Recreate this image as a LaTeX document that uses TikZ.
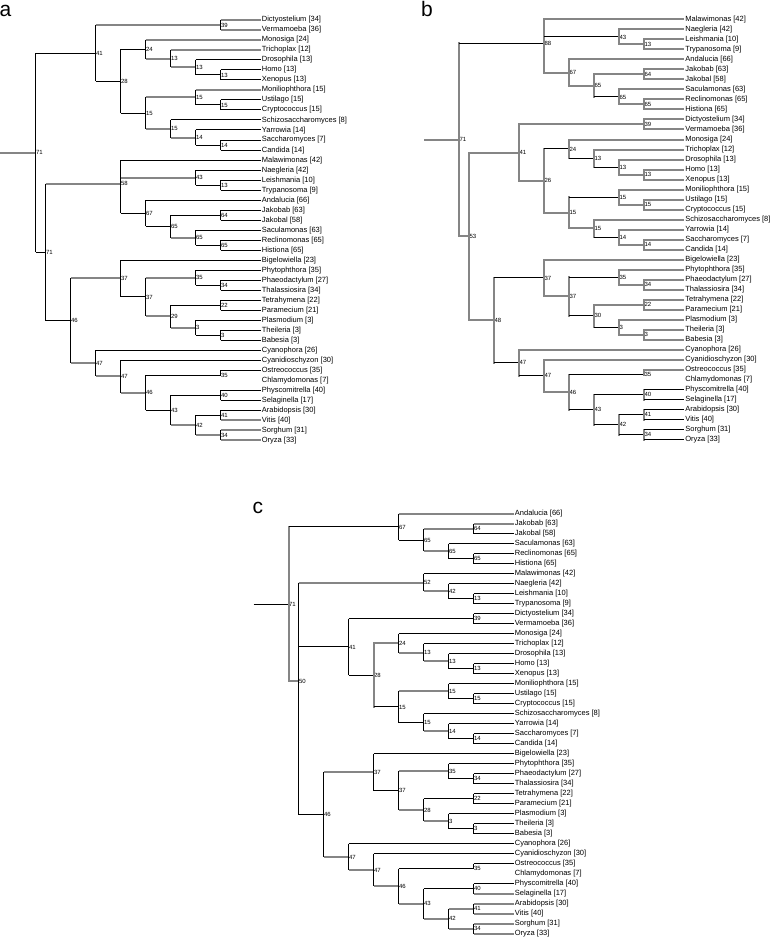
\documentclass[tikz,border=0pt]{standalone}
\usepackage{fontspec}
\setmainfont{Liberation Sans}
\definecolor{treegray}{gray}{0.52}
\newcommand\leaffont{\fontsize{7.5}{8}\selectfont}
\newcommand\nodefont{\fontsize{6}{7}\selectfont}
\newcommand\panelfont{\fontsize{21}{24}\selectfont}
\newcommand\Lf[4]{\node[leaf] (#1) at (#2,#3) {#4};}
\newcommand\In[4]{\coordinate (#1) at (#2,#3); \node[nlab] (#1l) at (#1) {#4};}
\newcommand\Nd[6]{\draw[#1] (#2 |- #3) -- (#2 |- #4); \draw[#5] (#2 |- #3) -- (#3); \draw[#6] (#2 |- #4) -- (#4);}
\newcommand\Nt[8]{\draw[#1] (#2 |- #3) -- (#2 |- #5); \draw[#6] (#2 |- #3) -- (#3); \draw[#7] (#2 |- #4) -- (#4); \draw[#8] (#2 |- #5) -- (#5);}
\tikzset{
 ek/.style={draw=black, line width=1pt},
 eg/.style={draw=treegray, line width=2pt},
 vk/.style={draw=black, line width=1pt},
 vg/.style={draw=treegray, line width=2pt, line cap=rect},
 leaf/.style={anchor=west, inner xsep=1.2pt, inner ysep=0pt, font=\leaffont, text height=5.5pt, text depth=1.5pt},
 nlab/.style={anchor=west, inner xsep=0.4pt, inner ysep=0pt, font=\nodefont, text height=4.3pt, text depth=0pt},
 panel/.style={anchor=base west, inner sep=0pt, font=\panelfont},
}
\begin{document}
\begin{tikzpicture}[x=1pt, y=-1pt]
\fill[white] (0,0) rectangle (770,939);
\useasboundingbox (0,0) rectangle (770,939);
\node[panel] (pa) at (-0.5,16.7) {a};
\node[panel] (pb) at (421,16.7) {b};
\node[panel] (pc) at (252.5,513.3) {c};
% ================= tree a =================
\Lf{aDic}{260.5}{20}{Dictyostelium [34]}
\Lf{aVer}{260.5}{30}{Vermamoeba [36]}
\Lf{aMon}{260.5}{40}{Monosiga [24]}
\Lf{aTri}{260.5}{50}{Trichoplax [12]}
\Lf{aDro}{260.5}{60}{Drosophila [13]}
\Lf{aHom}{260.5}{70}{Homo [13]}
\Lf{aXen}{260.5}{80}{Xenopus [13]}
\Lf{aMnl}{260.5}{90}{Moniliophthora [15]}
\Lf{aUst}{260.5}{100}{Ustilago [15]}
\Lf{aCry}{260.5}{110}{Cryptococcus [15]}
\Lf{aSch}{260.5}{120}{Schizosaccharomyces [8]}
\Lf{aYar}{260.5}{130}{Yarrowia [14]}
\Lf{aSac}{260.5}{140}{Saccharomyces [7]}
\Lf{aCan}{260.5}{150}{Candida [14]}
\Lf{aMal}{260.5}{160}{Malawimonas [42]}
\Lf{aNae}{260.5}{170}{Naegleria [42]}
\Lf{aLei}{260.5}{180}{Leishmania [10]}
\Lf{aTry}{260.5}{190}{Trypanosoma [9]}
\Lf{aAnd}{260.5}{200}{Andalucia [66]}
\Lf{aJkb}{260.5}{210}{Jakobab [63]}
\Lf{aJkl}{260.5}{220}{Jakobal [58]}
\Lf{aScl}{260.5}{230}{Saculamonas [63]}
\Lf{aRec}{260.5}{240}{Reclinomonas [65]}
\Lf{aHis}{260.5}{250}{Histiona [65]}
\Lf{aBig}{260.5}{260}{Bigelowiella [23]}
\Lf{aPhy}{260.5}{270}{Phytophthora [35]}
\Lf{aPha}{260.5}{280}{Phaeodactylum [27]}
\Lf{aTha}{260.5}{290}{Thalassiosira [34]}
\Lf{aTet}{260.5}{300}{Tetrahymena [22]}
\Lf{aPar}{260.5}{310}{Paramecium [21]}
\Lf{aPla}{260.5}{320}{Plasmodium [3]}
\Lf{aThe}{260.5}{330}{Theileria [3]}
\Lf{aBab}{260.5}{340}{Babesia [3]}
\Lf{aCyp}{260.5}{350}{Cyanophora [26]}
\Lf{aCyd}{260.5}{360}{Cyanidioschyzon [30]}
\Lf{aOst}{260.5}{370}{Ostreococcus [35]}
\Lf{aChl}{260.5}{380}{Chlamydomonas [7]}
\Lf{aPhs}{260.5}{390}{Physcomitrella [40]}
\Lf{aSel}{260.5}{400}{Selaginella [17]}
\Lf{aAra}{260.5}{410}{Arabidopsis [30]}
\Lf{aVit}{260.5}{420}{Vitis [40]}
\Lf{aSor}{260.5}{430}{Sorghum [31]}
\Lf{aOry}{260.5}{440}{Oryza [33]}
\In{aR}{35.5}{152.64}{71}
\In{aAm}{95.5}{53.125}{41}
\In{aDV}{220.5}{25}{39}
\In{aOp}{120.5}{81.25}{28}
\In{aHz}{145.5}{49.375}{24}
\In{aM1}{170.5}{58.75}{13}
\In{aM2}{195.5}{67.5}{13}
\In{aM3}{220.5}{75}{13}
\In{aFu}{145.5}{113.125}{15}
\In{aB1}{195.5}{97.5}{15}
\In{aB2}{220.5}{105}{15}
\In{aY1}{170.5}{128.75}{15}
\In{aY2}{195.5}{137.5}{14}
\In{aY3}{220.5}{145}{14}
\In{aX}{45.5}{252.16}{71}
\In{aEx}{120.5}{183.54}{58}
\In{aDi}{195.5}{177.5}{43}
\In{aTk}{220.5}{185}{13}
\In{aJa}{145.5}{213.125}{67}
\In{aJ1}{170.5}{226.25}{65}
\In{aJ2}{220.5}{215}{64}
\In{aJ3}{195.5}{237.5}{65}
\In{aJ4}{220.5}{245}{65}
\In{aD}{70.5}{320.78}{46}
\In{aS}{120.5}{278.44}{37}
\In{aS2}{145.5}{296.875}{37}
\In{aSt}{195.5}{277.5}{35}
\In{aSt2}{220.5}{285}{34}
\In{aAl}{170.5}{316.25}{29}
\In{aCi}{220.5}{305}{22}
\In{aAp}{195.5}{327.5}{3}
\In{aAp2}{220.5}{335}{3}
\In{aAr}{95.5}{363.125}{47}
\In{aAr2}{120.5}{376.25}{47}
\In{aVi}{145.5}{392.5}{46}
\In{aCh}{220.5}{375}{35}
\In{aEm}{170.5}{410}{43}
\In{aE1}{220.5}{395}{40}
\In{aAn}{195.5}{425}{42}
\In{aE2}{220.5}{415}{41}
\In{aE3}{220.5}{435}{34}
\coordinate (aR0) at (0,152.64);
\draw[eg] (aR0) -- (aR);
\Nd{vk}{aR}{aAm}{aX}{ek}{ek}
\Nd{vk}{aAm}{aDV}{aOp}{eg}{ek}
\Nd{vk}{aDV}{aDic}{aVer}{eg}{eg}
\Nd{vk}{aOp}{aHz}{aFu}{ek}{ek}
\Nd{vk}{aHz}{aMon}{aM1}{eg}{eg}
\Nd{vk}{aM1}{aTri}{aM2}{eg}{eg}
\Nd{vk}{aM2}{aDro}{aM3}{ek}{ek}
\Nd{vk}{aM3}{aHom}{aXen}{ek}{ek}
\Nd{vk}{aFu}{aB1}{aY1}{eg}{eg}
\Nd{vk}{aB1}{aMnl}{aB2}{eg}{ek}
\Nd{vk}{aB2}{aUst}{aCry}{ek}{ek}
\Nd{vk}{aY1}{aSch}{aY2}{ek}{eg}
\Nd{vk}{aY2}{aYar}{aY3}{ek}{ek}
\Nd{vk}{aY3}{aSac}{aCan}{ek}{ek}
\Nd{vk}{aX}{aEx}{aD}{eg}{ek}
\Nt{vk}{aEx}{aMal}{aDi}{aJa}{ek}{eg}{ek}
\Nd{vk}{aDi}{aNae}{aTk}{ek}{ek}
\Nd{vk}{aTk}{aLei}{aTry}{ek}{ek}
\Nd{vk}{aJa}{aAnd}{aJ1}{ek}{ek}
\Nd{vk}{aJ1}{aJ2}{aJ3}{ek}{eg}
\Nd{vk}{aJ2}{aJkb}{aJkl}{ek}{ek}
\Nd{vk}{aJ3}{aScl}{aJ4}{ek}{ek}
\Nd{vk}{aJ4}{aRec}{aHis}{ek}{ek}
\Nd{vk}{aD}{aS}{aAr}{eg}{eg}
\Nd{vk}{aS}{aBig}{aS2}{ek}{ek}
\Nd{vk}{aS2}{aSt}{aAl}{eg}{eg}
\Nd{vk}{aSt}{aPhy}{aSt2}{ek}{ek}
\Nd{vk}{aSt2}{aPha}{aTha}{ek}{ek}
\Nd{vk}{aAl}{aCi}{aAp}{ek}{eg}
\Nd{vk}{aCi}{aTet}{aPar}{ek}{ek}
\Nd{vk}{aAp}{aPla}{aAp2}{ek}{ek}
\Nd{vk}{aAp2}{aThe}{aBab}{ek}{ek}
\Nd{vk}{aAr}{aCyp}{aAr2}{ek}{eg}
\Nd{vk}{aAr2}{aCyd}{aVi}{ek}{eg}
\Nd{vk}{aVi}{aCh}{aEm}{ek}{ek}
\Nd{vk}{aCh}{aOst}{aChl}{ek}{ek}
\Nd{vk}{aEm}{aE1}{aAn}{ek}{eg}
\Nd{vk}{aE1}{aPhs}{aSel}{ek}{ek}
\Nd{vk}{aAn}{aE2}{aE3}{ek}{eg}
\Nd{vk}{aE2}{aAra}{aVit}{ek}{eg}
\Nd{vk}{aE3}{aSor}{aOry}{eg}{eg}
% ================= tree b =================
\Lf{bMal}{684}{19.5}{Malawimonas [42]}
\Lf{bNae}{684}{29.5}{Naegleria [42]}
\Lf{bLei}{684}{39.5}{Leishmania [10]}
\Lf{bTry}{684}{49.5}{Trypanosoma [9]}
\Lf{bAnd}{684}{59.5}{Andalucia [66]}
\Lf{bJkb}{684}{69.5}{Jakobab [63]}
\Lf{bJkl}{684}{79.5}{Jakobal [58]}
\Lf{bScl}{684}{89.5}{Saculamonas [63]}
\Lf{bRec}{684}{99.5}{Reclinomonas [65]}
\Lf{bHis}{684}{109.5}{Histiona [65]}
\Lf{bDic}{684}{119.5}{Dictyostelium [34]}
\Lf{bVer}{684}{129.5}{Vermamoeba [36]}
\Lf{bMon}{684}{139.5}{Monosiga [24]}
\Lf{bTri}{684}{149.5}{Trichoplax [12]}
\Lf{bDro}{684}{159.5}{Drosophila [13]}
\Lf{bHom}{684}{169.5}{Homo [13]}
\Lf{bXen}{684}{179.5}{Xenopus [13]}
\Lf{bMnl}{684}{189.5}{Moniliophthora [15]}
\Lf{bUst}{684}{199.5}{Ustilago [15]}
\Lf{bCry}{684}{209.5}{Cryptococcus [15]}
\Lf{bSch}{684}{219.5}{Schizosaccharomyces [8]}
\Lf{bYar}{684}{229.5}{Yarrowia [14]}
\Lf{bSac}{684}{239.5}{Saccharomyces [7]}
\Lf{bCan}{684}{249.5}{Candida [14]}
\Lf{bBig}{684}{259.5}{Bigelowiella [23]}
\Lf{bPhy}{684}{269.5}{Phytophthora [35]}
\Lf{bPha}{684}{279.5}{Phaeodactylum [27]}
\Lf{bTha}{684}{289.5}{Thalassiosira [34]}
\Lf{bTet}{684}{299.5}{Tetrahymena [22]}
\Lf{bPar}{684}{309.5}{Paramecium [21]}
\Lf{bPla}{684}{319.5}{Plasmodium [3]}
\Lf{bThe}{684}{329.5}{Theileria [3]}
\Lf{bBab}{684}{339.5}{Babesia [3]}
\Lf{bCyp}{684}{349.5}{Cyanophora [26]}
\Lf{bCyd}{684}{359.5}{Cyanidioschyzon [30]}
\Lf{bOst}{684}{369.5}{Ostreococcus [35]}
\Lf{bChl}{684}{379.5}{Chlamydomonas [7]}
\Lf{bPhs}{684}{389.5}{Physcomitrella [40]}
\Lf{bSel}{684}{399.5}{Selaginella [17]}
\Lf{bAra}{684}{409.5}{Arabidopsis [30]}
\Lf{bVit}{684}{419.5}{Vitis [40]}
\Lf{bSor}{684}{429.5}{Sorghum [31]}
\Lf{bOry}{684}{439.5}{Oryza [33]}
\In{bR}{459}{139.75}{71}
\In{bEx}{544}{43.04}{88}
\In{bDi}{619}{37}{43}
\In{bTk}{644}{44.5}{13}
\In{bJa}{569}{72.625}{67}
\In{bJ1}{594}{85.75}{65}
\In{bJ2}{644}{74.5}{64}
\In{bJ3}{619}{97}{65}
\In{bJ4}{644}{104.5}{65}
\In{bX}{469}{236.45}{53}
\In{bAm}{519}{152.625}{41}
\In{bDV}{644}{124.5}{39}
\In{bOp}{544}{180.75}{26}
\In{bHz}{569}{148.875}{24}
\In{bM1}{594}{158.25}{13}
\In{bM2}{619}{167}{13}
\In{bM3}{644}{174.5}{13}
\In{bFu}{569}{212.625}{15}
\In{bB1}{619}{197}{15}
\In{bB2}{644}{204.5}{15}
\In{bY1}{594}{228.25}{15}
\In{bY2}{619}{237}{14}
\In{bY3}{644}{244.5}{14}
\In{bD}{494}{320.28}{48}
\In{bS}{544}{277.94}{37}
\In{bS2}{569}{296.375}{37}
\In{bSt}{619}{277}{35}
\In{bSt2}{644}{284.5}{34}
\In{bAl}{594}{315.75}{30}
\In{bCi}{644}{304.5}{22}
\In{bAp}{619}{327}{3}
\In{bAp2}{644}{334.5}{3}
\In{bAr}{519}{362.625}{47}
\In{bAr2}{544}{375.75}{47}
\In{bVi}{569}{392}{46}
\In{bCh}{644}{374.5}{35}
\In{bEm}{594}{409.5}{43}
\In{bE1}{644}{394.5}{40}
\In{bAn}{619}{424.5}{42}
\In{bE2}{644}{414.5}{41}
\In{bE3}{644}{434.5}{34}
\coordinate (bR0) at (424,139.75);
\draw[eg] (bR0) -- (bR);
\Nd{vg}{bR}{bEx}{bX}{ek}{eg}
\Nt{vg}{bEx}{bMal}{bDi}{bJa}{eg}{ek}{eg}
\Nd{vg}{bDi}{bNae}{bTk}{eg}{eg}
\Nd{vg}{bTk}{bLei}{bTry}{eg}{eg}
\Nd{vg}{bJa}{bAnd}{bJ1}{eg}{eg}
\Nd{vg}{bJ1}{bJ2}{bJ3}{eg}{ek}
\Nd{vg}{bJ2}{bJkb}{bJkl}{eg}{eg}
\Nd{vg}{bJ3}{bScl}{bJ4}{eg}{eg}
\Nd{vg}{bJ4}{bRec}{bHis}{eg}{eg}
\Nd{vg}{bX}{bAm}{bD}{eg}{eg}
\Nd{vg}{bAm}{bDV}{bOp}{eg}{eg}
\Nd{vg}{bDV}{bDic}{bVer}{eg}{eg}
\Nd{vg}{bOp}{bHz}{bFu}{ek}{eg}
\Nd{vg}{bHz}{bMon}{bM1}{eg}{ek}
\Nd{vg}{bM1}{bTri}{bM2}{eg}{ek}
\Nd{vg}{bM2}{bDro}{bM3}{eg}{eg}
\Nd{vg}{bM3}{bHom}{bXen}{eg}{eg}
\Nd{vg}{bFu}{bB1}{bY1}{ek}{eg}
\Nd{vg}{bB1}{bMnl}{bB2}{eg}{eg}
\Nd{vg}{bB2}{bUst}{bCry}{eg}{eg}
\Nd{vg}{bY1}{bSch}{bY2}{eg}{ek}
\Nd{vg}{bY2}{bYar}{bY3}{eg}{eg}
\Nd{vg}{bY3}{bSac}{bCan}{eg}{eg}
\Nd{vg}{bD}{bS}{bAr}{ek}{ek}
\Nd{vg}{bS}{bBig}{bS2}{eg}{eg}
\Nd{vg}{bS2}{bSt}{bAl}{ek}{ek}
\Nd{vg}{bSt}{bPhy}{bSt2}{eg}{eg}
\Nd{vg}{bSt2}{bPha}{bTha}{eg}{eg}
\Nd{vg}{bAl}{bCi}{bAp}{eg}{ek}
\Nd{vg}{bCi}{bTet}{bPar}{eg}{eg}
\Nd{vg}{bAp}{bPla}{bAp2}{eg}{eg}
\Nd{vg}{bAp2}{bThe}{bBab}{eg}{eg}
\Nd{vg}{bAr}{bCyp}{bAr2}{eg}{ek}
\Nd{vg}{bAr2}{bCyd}{bVi}{eg}{eg}
\Nd{vg}{bVi}{bCh}{bEm}{ek}{ek}
\Nd{vg}{bCh}{bOst}{bChl}{eg}{ek}
\Nd{vg}{bEm}{bE1}{bAn}{ek}{ek}
\Nd{vg}{bE1}{bPhs}{bSel}{ek}{ek}
\Nd{vg}{bAn}{bE2}{bE3}{ek}{ek}
\Nd{vg}{bE2}{bAra}{bVit}{ek}{ek}
\Nd{vg}{bE3}{bSor}{bOry}{ek}{ek}
% ================= tree c =================
\Lf{cAnd}{513.5}{513.8}{Andalucia [66]}
\Lf{cJkb}{513.5}{523.8}{Jakobab [63]}
\Lf{cJkl}{513.5}{533.8}{Jakobal [58]}
\Lf{cScl}{513.5}{543.8}{Saculamonas [63]}
\Lf{cRec}{513.5}{553.8}{Reclinomonas [65]}
\Lf{cHis}{513.5}{563.8}{Histiona [65]}
\Lf{cMal}{513.5}{573.8}{Malawimonas [42]}
\Lf{cNae}{513.5}{583.8}{Naegleria [42]}
\Lf{cLei}{513.5}{593.8}{Leishmania [10]}
\Lf{cTry}{513.5}{603.8}{Trypanosoma [9]}
\Lf{cDic}{513.5}{613.8}{Dictyostelium [34]}
\Lf{cVer}{513.5}{623.8}{Vermamoeba [36]}
\Lf{cMon}{513.5}{633.8}{Monosiga [24]}
\Lf{cTri}{513.5}{643.8}{Trichoplax [12]}
\Lf{cDro}{513.5}{653.8}{Drosophila [13]}
\Lf{cHom}{513.5}{663.8}{Homo [13]}
\Lf{cXen}{513.5}{673.8}{Xenopus [13]}
\Lf{cMnl}{513.5}{683.8}{Moniliophthora [15]}
\Lf{cUst}{513.5}{693.8}{Ustilago [15]}
\Lf{cCry}{513.5}{703.8}{Cryptococcus [15]}
\Lf{cSch}{513.5}{713.8}{Schizosaccharomyces [8]}
\Lf{cYar}{513.5}{723.8}{Yarrowia [14]}
\Lf{cSac}{513.5}{733.8}{Saccharomyces [7]}
\Lf{cCan}{513.5}{743.8}{Candida [14]}
\Lf{cBig}{513.5}{753.8}{Bigelowiella [23]}
\Lf{cPhy}{513.5}{763.8}{Phytophthora [35]}
\Lf{cPha}{513.5}{773.8}{Phaeodactylum [27]}
\Lf{cTha}{513.5}{783.8}{Thalassiosira [34]}
\Lf{cTet}{513.5}{793.8}{Tetrahymena [22]}
\Lf{cPar}{513.5}{803.8}{Paramecium [21]}
\Lf{cPla}{513.5}{813.8}{Plasmodium [3]}
\Lf{cThe}{513.5}{823.8}{Theileria [3]}
\Lf{cBab}{513.5}{833.8}{Babesia [3]}
\Lf{cCyp}{513.5}{843.8}{Cyanophora [26]}
\Lf{cCyd}{513.5}{853.8}{Cyanidioschyzon [30]}
\Lf{cOst}{513.5}{863.8}{Ostreococcus [35]}
\Lf{cChl}{513.5}{873.8}{Chlamydomonas [7]}
\Lf{cPhs}{513.5}{883.8}{Physcomitrella [40]}
\Lf{cSel}{513.5}{893.8}{Selaginella [17]}
\Lf{cAra}{513.5}{903.8}{Arabidopsis [30]}
\Lf{cVit}{513.5}{913.8}{Vitis [40]}
\Lf{cSor}{513.5}{923.8}{Sorghum [31]}
\Lf{cOry}{513.5}{933.8}{Oryza [33]}
\In{cR}{288.5}{604.14}{71}
\In{cJa}{398.5}{526.93}{67}
\In{cJ1}{423.5}{540.05}{65}
\In{cJ2}{473.5}{528.8}{64}
\In{cJ3}{448.5}{551.3}{65}
\In{cJ4}{473.5}{558.8}{65}
\In{cX}{298.5}{681.35}{50}
\In{cEx}{423.5}{582.55}{52}
\In{cDi}{448.5}{591.3}{42}
\In{cTk}{473.5}{598.8}{13}
\In{cAm}{348.5}{646.93}{41}
\In{cDV}{473.5}{618.8}{39}
\In{cOp}{373.5}{675.05}{28}
\In{cHz}{398.5}{643.18}{24}
\In{cM1}{423.5}{652.55}{13}
\In{cM2}{448.5}{661.3}{13}
\In{cM3}{473.5}{668.8}{13}
\In{cFu}{398.5}{706.93}{15}
\In{cB1}{448.5}{691.3}{15}
\In{cB2}{473.5}{698.8}{15}
\In{cY1}{423.5}{722.55}{15}
\In{cY2}{448.5}{731.3}{14}
\In{cY3}{473.5}{738.8}{14}
\In{cD}{323.5}{814.58}{46}
\In{cS}{373.5}{772.24}{37}
\In{cS2}{398.5}{790.68}{37}
\In{cSt}{448.5}{771.3}{35}
\In{cSt2}{473.5}{778.8}{34}
\In{cAl}{423.5}{810.05}{28}
\In{cCi}{473.5}{798.8}{22}
\In{cAp}{448.5}{821.3}{3}
\In{cAp2}{473.5}{828.8}{3}
\In{cAr}{348.5}{856.93}{47}
\In{cAr2}{373.5}{870.05}{47}
\In{cVi}{398.5}{886.3}{46}
\In{cCh}{473.5}{868.8}{35}
\In{cEm}{423.5}{903.8}{43}
\In{cE1}{473.5}{888.8}{40}
\In{cAn}{448.5}{918.8}{42}
\In{cE2}{473.5}{908.8}{41}
\In{cE3}{473.5}{928.8}{34}
\coordinate (cR0) at (253.5,604.14);
\draw[ek] (cR0) -- (cR);
\Nd{vg}{cR}{cJa}{cX}{ek}{eg}
\Nd{vk}{cJa}{cAnd}{cJ1}{eg}{ek}
\Nd{vk}{cJ1}{cJ2}{cJ3}{eg}{eg}
\Nd{vk}{cJ2}{cJkb}{cJkl}{eg}{ek}
\Nd{vk}{cJ3}{cScl}{cJ4}{ek}{ek}
\Nd{vk}{cJ4}{cRec}{cHis}{ek}{ek}
\Nt{vk}{cX}{cEx}{cAm}{cD}{eg}{ek}{ek}
\Nd{vk}{cEx}{cMal}{cDi}{ek}{eg}
\Nd{vk}{cDi}{cNae}{cTk}{ek}{ek}
\Nd{vk}{cTk}{cLei}{cTry}{ek}{ek}
\Nd{vk}{cAm}{cDV}{cOp}{ek}{ek}
\Nd{vk}{cDV}{cDic}{cVer}{ek}{ek}
\Nd{vg}{cOp}{cHz}{cFu}{eg}{ek}
\Nd{vk}{cHz}{cMon}{cM1}{ek}{eg}
\Nd{vk}{cM1}{cTri}{cM2}{ek}{eg}
\Nd{vk}{cM2}{cDro}{cM3}{ek}{ek}
\Nd{vk}{cM3}{cHom}{cXen}{ek}{ek}
\Nd{vk}{cFu}{cB1}{cY1}{eg}{ek}
\Nd{vk}{cB1}{cMnl}{cB2}{ek}{ek}
\Nd{vk}{cB2}{cUst}{cCry}{ek}{ek}
\Nd{vk}{cY1}{cSch}{cY2}{ek}{eg}
\Nd{vk}{cY2}{cYar}{cY3}{ek}{ek}
\Nd{vk}{cY3}{cSac}{cCan}{ek}{ek}
\Nd{vk}{cD}{cS}{cAr}{eg}{eg}
\Nd{vk}{cS}{cBig}{cS2}{ek}{ek}
\Nd{vk}{cS2}{cSt}{cAl}{eg}{eg}
\Nd{vk}{cSt}{cPhy}{cSt2}{ek}{ek}
\Nd{vk}{cSt2}{cPha}{cTha}{ek}{ek}
\Nd{vk}{cAl}{cCi}{cAp}{ek}{eg}
\Nd{vk}{cCi}{cTet}{cPar}{ek}{ek}
\Nd{vk}{cAp}{cPla}{cAp2}{ek}{ek}
\Nd{vk}{cAp2}{cThe}{cBab}{ek}{ek}
\Nd{vk}{cAr}{cCyp}{cAr2}{ek}{eg}
\Nd{vk}{cAr2}{cCyd}{cVi}{ek}{eg}
\Nd{vk}{cVi}{cCh}{cEm}{ek}{eg}
\Nd{vk}{cCh}{cOst}{cChl}{ek}{ek}
\Nd{vk}{cEm}{cE1}{cAn}{ek}{eg}
\Nd{vk}{cE1}{cPhs}{cSel}{ek}{eg}
\Nd{vk}{cAn}{cE2}{cE3}{eg}{eg}
\Nd{vk}{cE2}{cAra}{cVit}{eg}{eg}
\Nd{vk}{cE3}{cSor}{cOry}{eg}{eg}
\end{tikzpicture}
\end{document}
